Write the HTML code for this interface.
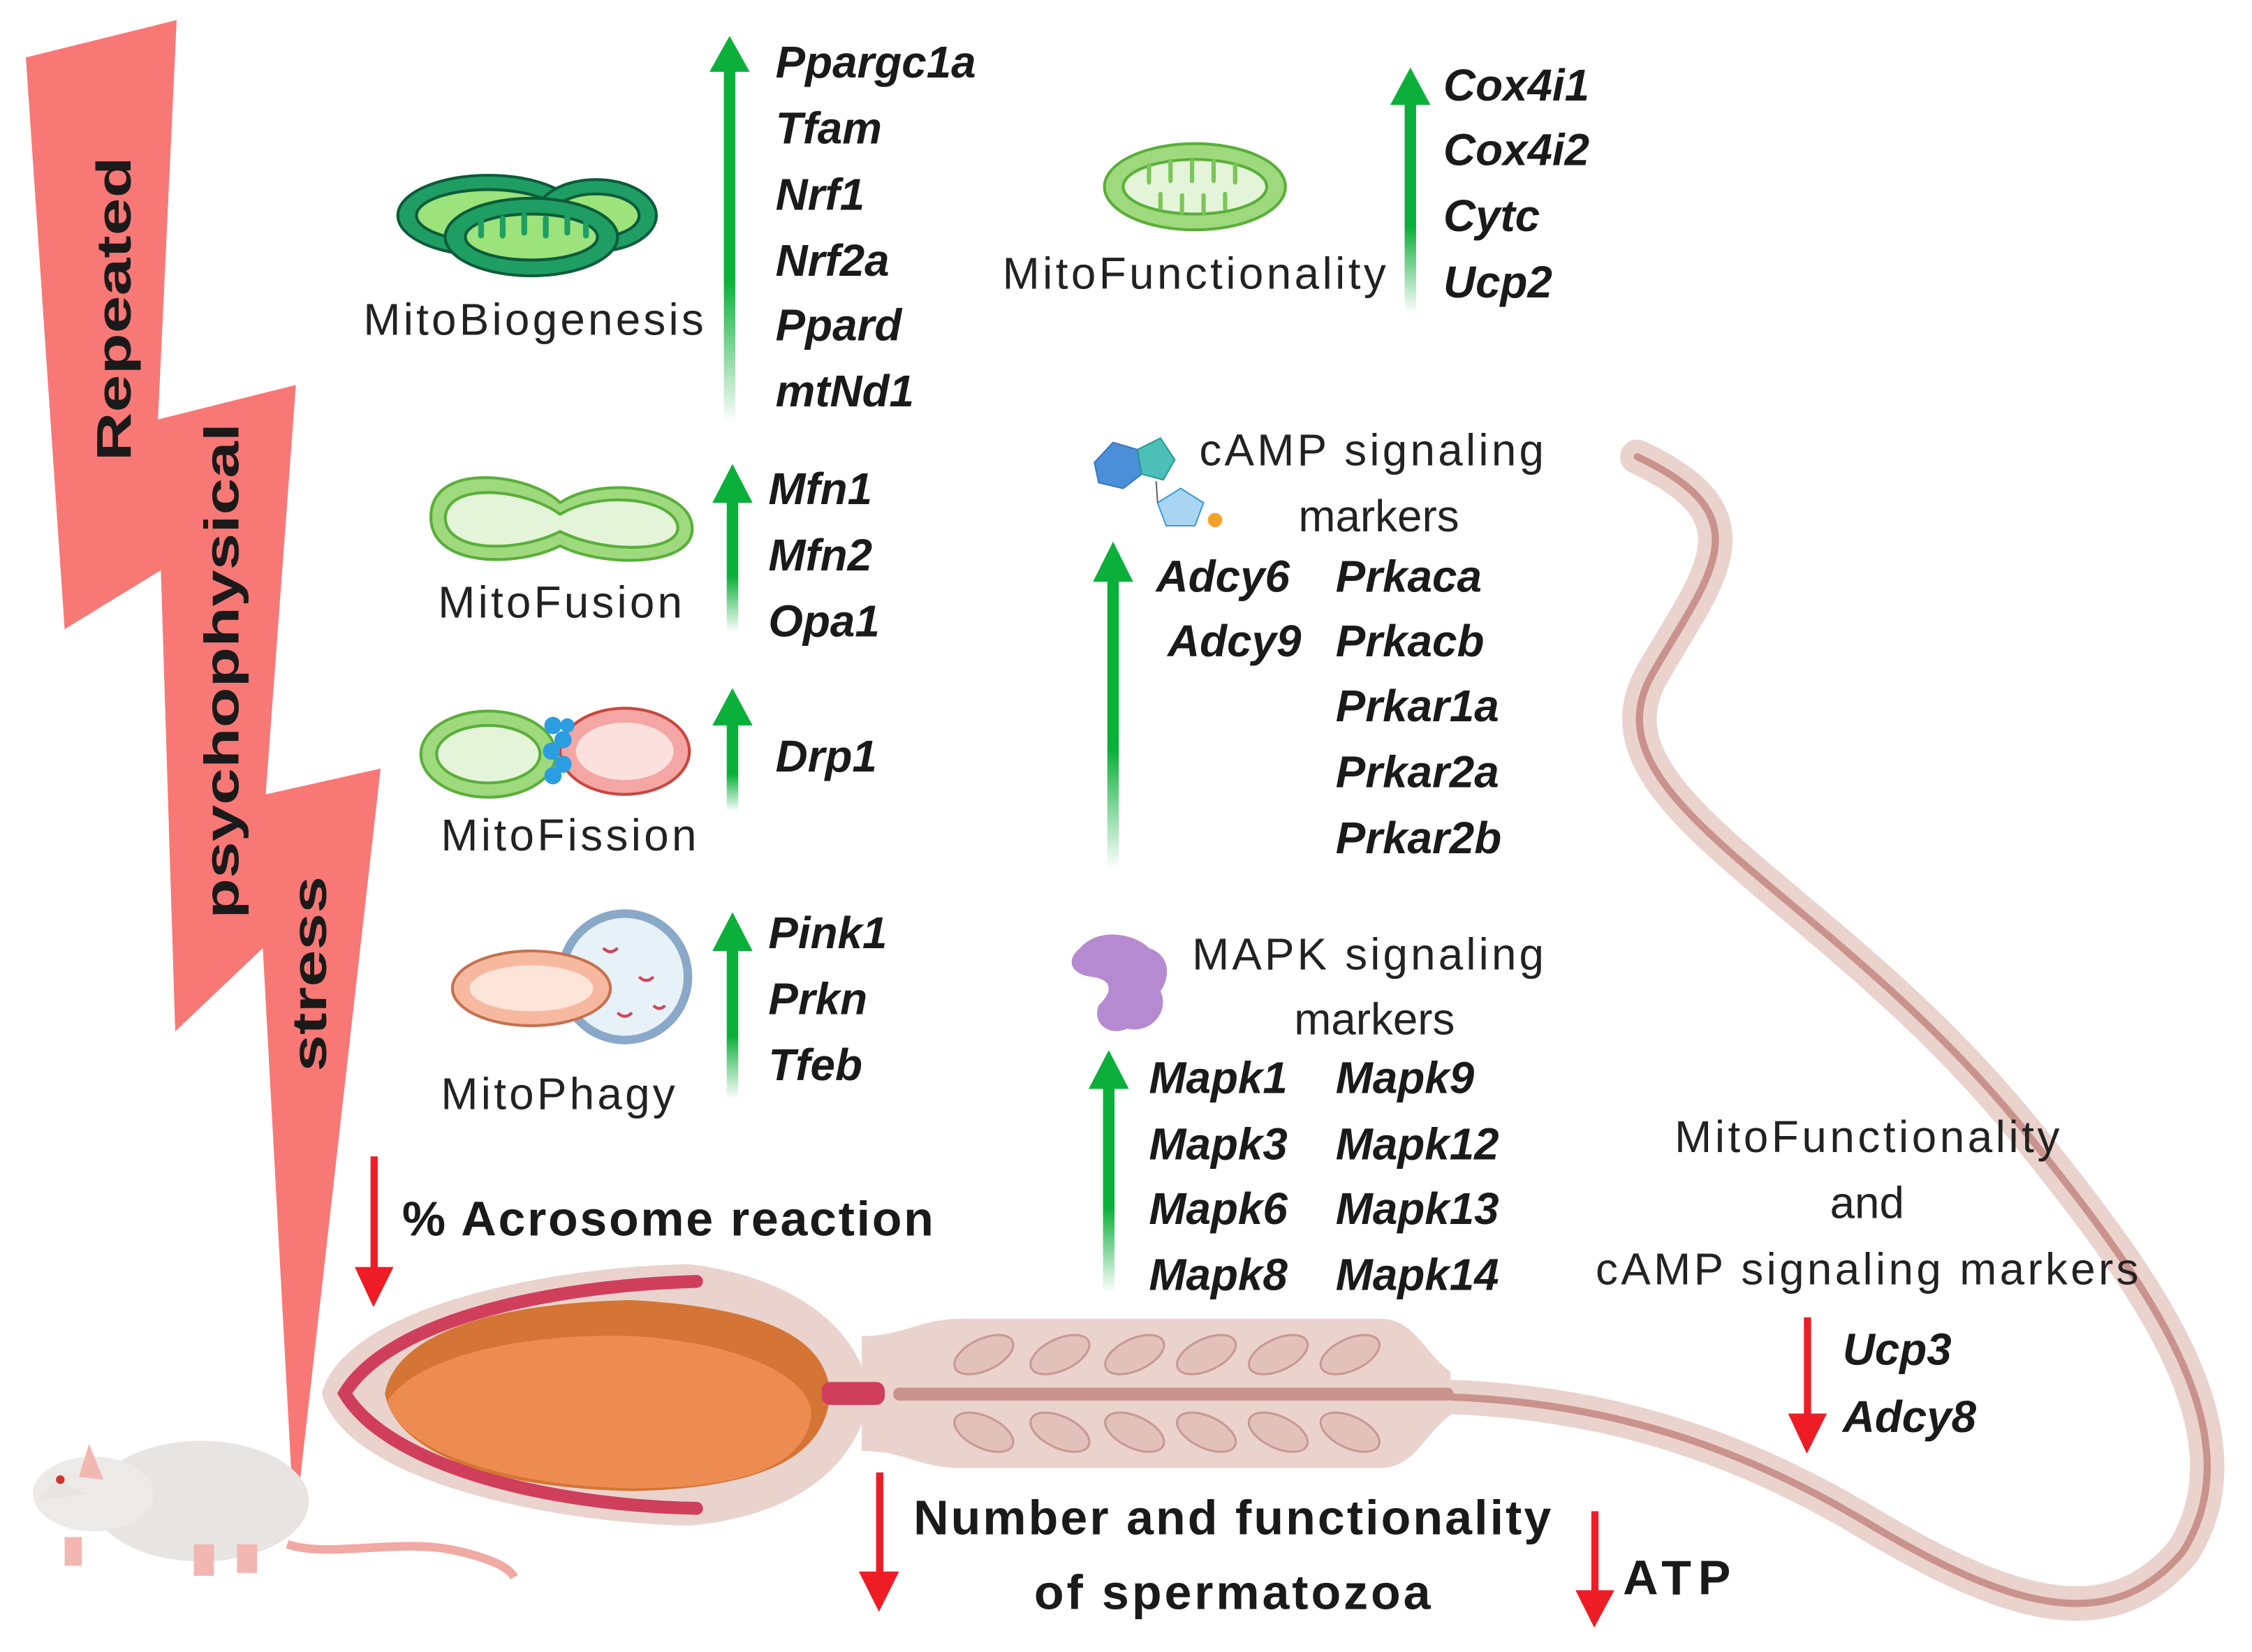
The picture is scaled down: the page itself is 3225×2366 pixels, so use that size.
<!DOCTYPE html>
<html><head><meta charset="utf-8"><style>
html,body{margin:0;padding:0;background:#fff;}
svg{display:block;}
.g{font-family:"Liberation Sans",sans-serif;font-weight:bold;font-style:italic;font-size:31px;fill:#1a1a1a;}
.l{font-family:"Liberation Sans",sans-serif;font-size:31px;fill:#222;}
.b{font-family:"Liberation Sans",sans-serif;font-weight:bold;font-size:34px;fill:#1a1a1a;}
</style></head><body>
<svg width="3225" height="2366" viewBox="0 0 1568 1150" preserveAspectRatio="none" xmlns="http://www.w3.org/2000/svg">
<defs>
<linearGradient id="gg" x1="0" y1="1" x2="0" y2="0">
<stop offset="0" stop-color="#0bb03a" stop-opacity="0"/>
<stop offset="0.4" stop-color="#0bb03a" stop-opacity="1"/>
<stop offset="1" stop-color="#0bb03a"/>
</linearGradient>
</defs>
<rect width="1568" height="1150" fill="#fff"/>

<!-- lightning bolt -->
<polygon points="18,40 123,14 110,292 206,268 185,553 265,535 205,1065 183,660 122,718 112,397 45,438" fill="#f87876"/>
<text class="b" font-size="46" transform="translate(91,215) rotate(-90)" text-anchor="middle" fill="#111" textLength="212" lengthAdjust="spacingAndGlyphs">Repeated</text>
<text class="b" font-size="44" transform="translate(166,467) rotate(-90)" text-anchor="middle" fill="#111" textLength="345" lengthAdjust="spacingAndGlyphs">psychophysical</text>
<text class="b" font-size="44" transform="translate(227,678) rotate(-90)" text-anchor="middle" fill="#111" textLength="136" lengthAdjust="spacingAndGlyphs">stress</text>

<!-- rat -->
<g>
<path d="M200,1075 C230,1085 280,1070 320,1080 C345,1086 355,1092 358,1098" stroke="#f0a9a3" stroke-width="6" fill="none"/>
<ellipse cx="140" cy="1045" rx="75" ry="42" fill="#e8e4e2"/>
<ellipse cx="65" cy="1040" rx="42" ry="26" fill="#ece9e7"/>
<path d="M25,1045 L40,1030 L60,1040 Z" fill="#e8e4e2"/>
<path d="M62,1005 L72,1030 L55,1028 Z" fill="#f2b7b1"/>
<circle cx="42" cy="1030" r="3" fill="#c33"/>
<rect x="45" y="1070" width="12" height="20" fill="#f2b7b1"/>
<rect x="135" y="1075" width="14" height="22" fill="#f2b7b1"/>
<rect x="165" y="1075" width="14" height="20" fill="#f2b7b1"/>
</g>

<!-- sperm tail -->
<path d="M985,972 C1100,972 1200,1000 1300,1060 C1400,1120 1470,1140 1520,1080 C1570,1000 1500,900 1420,800 C1280,620 1100,560 1150,470 C1190,400 1230,360 1140,318" stroke="#ead3cd" stroke-width="24" fill="none" stroke-linecap="round"/>
<path d="M985,972 C1100,972 1200,1000 1300,1060 C1400,1120 1470,1140 1520,1080 C1570,1000 1500,900 1420,800 C1280,620 1100,560 1150,470 C1190,400 1230,360 1140,318" stroke="#c9928c" stroke-width="5" fill="none" stroke-linecap="round"/>
<!-- midpiece -->
<path d="M600,930 C630,930 640,918 670,918 L960,918 C985,918 990,940 1010,955 L1010,985 C990,1000 985,1022 960,1022 L670,1022 C640,1022 630,1010 600,1010 Z" fill="#ead3cd"/>
<rect x="622" y="966" width="390" height="9" rx="4" fill="#c9928c"/>
<g fill="#e2c1bb" stroke="#c89891" stroke-width="1.5">
<ellipse cx="685" cy="943" rx="22" ry="11" transform="rotate(-25 685 943)"/>
<ellipse cx="738" cy="943" rx="22" ry="11" transform="rotate(-25 738 943)"/>
<ellipse cx="790" cy="943" rx="22" ry="11" transform="rotate(-25 790 943)"/>
<ellipse cx="840" cy="943" rx="22" ry="11" transform="rotate(-25 840 943)"/>
<ellipse cx="890" cy="943" rx="22" ry="11" transform="rotate(-25 890 943)"/>
<ellipse cx="940" cy="943" rx="22" ry="11" transform="rotate(-25 940 943)"/>
<ellipse cx="685" cy="997" rx="22" ry="11" transform="rotate(25 685 997)"/>
<ellipse cx="738" cy="997" rx="22" ry="11" transform="rotate(25 738 997)"/>
<ellipse cx="790" cy="997" rx="22" ry="11" transform="rotate(25 790 997)"/>
<ellipse cx="840" cy="997" rx="22" ry="11" transform="rotate(25 840 997)"/>
<ellipse cx="890" cy="997" rx="22" ry="11" transform="rotate(25 890 997)"/>
<ellipse cx="940" cy="997" rx="22" ry="11" transform="rotate(25 940 997)"/>
</g>
<!-- head -->
<path d="M480,880 C560,890 600,930 605,970 C600,1015 560,1055 480,1062 C380,1060 240,1030 224,970 C240,910 380,882 480,880 Z" fill="#ead3cd"/>
<path d="M485,892 C380,895 270,920 240,970 C270,1020 380,1048 485,1050" stroke="#cf3f5c" stroke-width="9" fill="none" stroke-linecap="round"/>
<path d="M440,905 C530,910 575,930 578,970 C575,1015 530,1036 440,1038 C340,1036 275,1010 268,970 C275,930 340,907 440,905 Z" fill="#d47535"/>
<path d="M440,930 C520,935 565,960 565,985 C560,1020 520,1036 440,1036 C340,1034 275,1005 270,975 C290,945 360,928 440,930 Z" fill="#ec8c50"/>
<rect x="572" y="962" width="44" height="16" rx="6" fill="#cf3f5c"/>

<!-- green arrows -->
<g fill="url(#gg)">
<rect x="504" y="45" width="8" height="250"/><polygon points="494,50 522,50 508,25" fill="#0bb03a"/>
<rect x="978" y="68" width="8" height="150"/><polygon points="968,73 996,73 982,47" fill="#0bb03a"/>
<rect x="506" y="343" width="8" height="97"/><polygon points="496,350 524,350 510,323" fill="#0bb03a"/>
<rect x="506" y="500" width="8" height="65"/><polygon points="496,505 524,505 510,479" fill="#0bb03a"/>
<rect x="506" y="655" width="8" height="110"/><polygon points="496,662 524,662 510,635" fill="#0bb03a"/>
<rect x="771" y="398" width="8" height="207"/><polygon points="761,405 789,405 775,377" fill="#0bb03a"/>
<rect x="768" y="752" width="8" height="148"/><polygon points="758,758 786,758 772,731" fill="#0bb03a"/>
</g>
<!-- red arrows -->
<g fill="#ee1c25">
<rect x="258" y="805" width="5" height="80"/><polygon points="247,882 274,882 260,910"/>
<rect x="610" y="1025" width="5" height="72"/><polygon points="598,1094 626,1094 612,1122"/>
<rect x="1108" y="1052" width="5" height="58"/><polygon points="1097,1107 1124,1107 1110,1133"/>
<rect x="1256" y="917" width="5" height="70"/><polygon points="1245,984 1272,984 1258,1012"/>
</g>

<!-- mitochondria icons -->
<g stroke="#0c5b3a" stroke-width="2">
<ellipse cx="340" cy="150" rx="63" ry="28" fill="#1e9e63"/>
<ellipse cx="340" cy="150" rx="50" ry="18" fill="#9be37a"/>
<ellipse cx="415" cy="150" rx="42" ry="25" fill="#1e9e63"/>
<ellipse cx="415" cy="150" rx="30" ry="15" fill="#9be37a"/>
<ellipse cx="370" cy="165" rx="60" ry="27" fill="#1e9e63"/>
<ellipse cx="370" cy="165" rx="46" ry="16" fill="#9be37a"/>
</g>
<g stroke="#1e9e63" stroke-width="4" stroke-linecap="round">
<path d="M335,152 v12 M350,152 v12 M365,150 v12 M380,152 v12 M395,150 v12 M408,154 v10"/>
</g>
<g stroke="#5aae3a" stroke-width="2">
<ellipse cx="832" cy="130" rx="63" ry="30" fill="#9fd97d"/>
<ellipse cx="832" cy="130" rx="50" ry="19" fill="#e4f4d8"/>
<path d="M300,360 C300,320 370,330 390,350 C420,330 482,340 482,368 C482,395 420,395 390,380 C360,395 300,395 300,360 Z" fill="#9fd97d"/>
<path d="M310,360 C312,335 365,340 390,358 C420,340 472,348 472,368 C470,385 420,385 390,370 C360,385 310,385 310,360 Z" fill="#e4f4d8"/>
<ellipse cx="340" cy="525" rx="47" ry="30" fill="#9fd97d"/>
<ellipse cx="340" cy="525" rx="36" ry="20" fill="#e4f4d8"/>
</g>
<g stroke="#7cc55a" stroke-width="3" stroke-linecap="round">
<path d="M800,115 v12 M815,112 v14 M830,112 v14 M845,112 v14 M860,115 v12 M808,145 v-10 M823,148 v-12 M838,148 v-12 M853,145 v-10"/>
</g>
<ellipse cx="435" cy="523" rx="45" ry="30" fill="#f3a6a3" stroke="#c9463e" stroke-width="2"/>
<ellipse cx="435" cy="523" rx="34" ry="20" fill="#fbe0dd"/>
<g fill="#2a9ee0"><circle cx="385" cy="505" r="6"/><circle cx="392" cy="515" r="6"/><circle cx="384" cy="523" r="6"/><circle cx="392" cy="532" r="6"/><circle cx="385" cy="540" r="6"/><circle cx="395" cy="505" r="5"/></g>
<!-- phagy -->
<circle cx="435" cy="680" r="44" fill="#e6f1f8" stroke="#8aa8c8" stroke-width="6"/>
<ellipse cx="370" cy="688" rx="55" ry="26" fill="#f6b9a0" stroke="#c4714f" stroke-width="2"/>
<ellipse cx="370" cy="688" rx="43" ry="16" fill="#fde4d8"/>
<g stroke="#d0455a" stroke-width="2" fill="none"><path d="M420,660 q5,5 10,0 M445,680 q5,5 10,0 M430,705 q5,5 10,0 M455,700 q4,4 8,0"/></g>
<!-- cAMP icon -->
<polygon points="762,322 775,308 792,313 795,330 782,340 765,336" fill="#4a8fd8" stroke="#3a76c0"/>
<polygon points="792,313 808,305 818,320 810,334 795,330" fill="#4cc0b8" stroke="#2a9a90"/>
<polygon points="806,350 822,340 838,350 832,366 812,366" fill="#a9d5f2" stroke="#3a9ad8"/>
<line x1="805" y1="335" x2="806" y2="350" stroke="#666"/>
<circle cx="846" cy="362" r="5" fill="#f5a22a"/>
<!-- MAPK icon -->
<path d="M752,660 C765,645 790,650 800,660 C815,665 815,680 808,690 C815,705 800,720 785,716 C772,722 760,712 765,700 C775,690 775,682 760,680 C745,678 742,668 752,660 Z" fill="#b68ad0"/>

<!-- labels -->
<text class="l" x="253" y="233" textLength="237">MitoBiogenesis</text>
<text class="l" x="698" y="201" textLength="267">MitoFunctionality</text>
<text class="l" x="305" y="430" textLength="170">MitoFusion</text>
<text class="l" x="307" y="592" textLength="178">MitoFission</text>
<text class="l" x="307" y="772" textLength="163">MitoPhagy</text>
<text class="l" x="835" y="324" textLength="240">cAMP signaling</text>
<text class="l" x="960" y="370" text-anchor="middle">markers</text>
<text class="l" x="830" y="675" textLength="245">MAPK signaling</text>
<text class="l" x="957" y="720" text-anchor="middle">markers</text>
<text class="l" x="1300" y="802" text-anchor="middle" textLength="268">MitoFunctionality</text>
<text class="l" x="1300" y="848" text-anchor="middle">and</text>
<text class="l" x="1300" y="894" text-anchor="middle" textLength="378">cAMP signaling markers</text>
<text class="b" x="280" y="860" textLength="370">% Acrosome reaction</text>
<text class="b" x="636" y="1068" textLength="444">Number and functionality</text>
<text class="b" x="858" y="1120" text-anchor="middle" textLength="276">of spermatozoa</text>
<text class="b" x="1130" y="1110" textLength="75">ATP</text>

<!-- genes -->
<g class="g">
<text x="540" y="54">Ppargc1a</text><text x="540" y="100">Tfam</text><text x="540" y="146">Nrf1</text><text x="540" y="192">Nrf2a</text><text x="540" y="237">Ppard</text><text x="540" y="283">mtNd1</text>
<text x="1005" y="70">Cox4i1</text><text x="1005" y="115">Cox4i2</text><text x="1005" y="161">Cytc</text><text x="1005" y="207">Ucp2</text>
<text x="535" y="351">Mfn1</text><text x="535" y="397">Mfn2</text><text x="535" y="443">Opa1</text>
<text x="540" y="537">Drp1</text>
<text x="535" y="660">Pink1</text><text x="535" y="706">Prkn</text><text x="535" y="752">Tfeb</text>
<text x="805" y="412">Adcy6</text><text x="813" y="457">Adcy9</text>
<text x="930" y="412">Prkaca</text><text x="930" y="457">Prkacb</text><text x="930" y="502">Prkar1a</text><text x="930" y="548">Prkar2a</text><text x="930" y="594">Prkar2b</text>
<text x="800" y="761">Mapk1</text><text x="800" y="807">Mapk3</text><text x="800" y="852">Mapk6</text><text x="800" y="898">Mapk8</text>
<text x="930" y="761">Mapk9</text><text x="930" y="807">Mapk12</text><text x="930" y="852">Mapk13</text><text x="930" y="898">Mapk14</text>
<text x="1283" y="950">Ucp3</text><text x="1283" y="997">Adcy8</text>
</g>
</svg>
</body></html>
